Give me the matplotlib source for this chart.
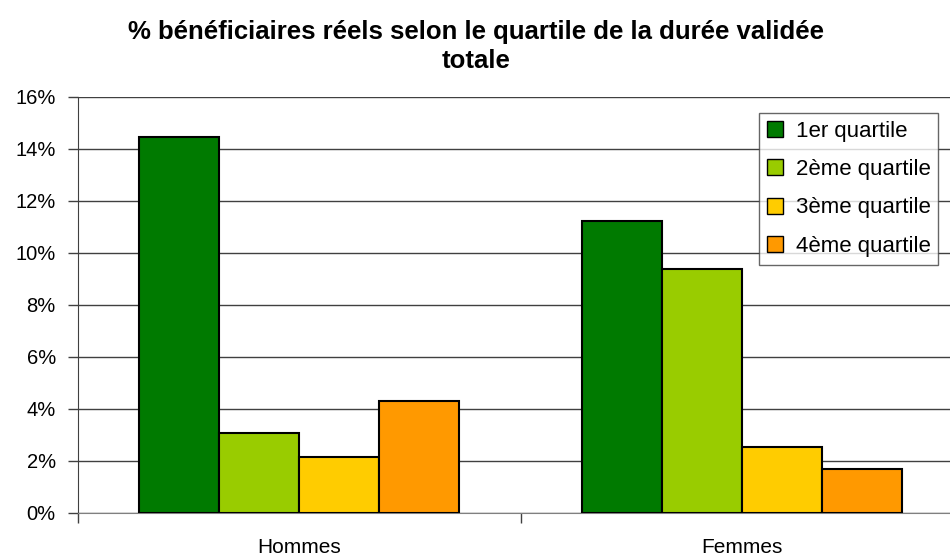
import matplotlib
matplotlib.use("Agg")
import matplotlib.pyplot as plt
import numpy as np
from matplotlib.ticker import FuncFormatter, FixedLocator

plt.rcParams['font.family'] = ['Liberation Sans', 'DejaVu Sans']

categories = ["Hommes", "Femmes"]
series_names = ["1er quartile", "2ème quartile", "3ème quartile", "4ème quartile"]
q1 = [14.45, 11.24]
q2 = [3.08, 9.37]
q3 = [2.14, 2.53]
q4 = [4.31, 1.68]
colors = ["#007A00", "#99CC00", "#FFCC00", "#FF9900"]
title_lines = ["% bénéficiaires réels selon le quartile de la durée validée", "totale"]

fig = plt.figure(figsize=(9.5, 5.58), dpi=100)
ax = fig.add_axes([78/950, 45/558, 885/950, 416/558])

x = np.arange(len(categories))
w = 0.181
for i, (vals, name, c) in enumerate(zip([q1, q2, q3, q4], series_names, colors)):
    ax.bar(x + (i - 1.5) * w, vals, width=w, color=c, edgecolor="black",
           linewidth=1.5, label=name, zorder=3)

ax.set_xlim(-0.5, 1.5)
ax.set_ylim(0, 16)
ax.set_yticks(np.arange(0, 17, 2))
ax.yaxis.set_major_formatter(FuncFormatter(lambda v, p: f"{v:.0f}%"))
ax.yaxis.grid(True, color="#404040", linewidth=1.0, zorder=0)
ax.tick_params(axis="y", direction="out", length=7, width=1, color="#404040",
               labelsize=14.5, pad=9)

ax.set_xticks(x)
ax.set_xticklabels(categories)
ax.xaxis.set_minor_locator(FixedLocator([-0.5, 0.5, 1.5]))
ax.tick_params(axis="x", which="major", length=0, labelsize=15, pad=18)
ax.tick_params(axis="x", which="minor", length=7, width=1, color="#404040",
               direction="out")

for s in ["top", "right"]:
    ax.spines[s].set_visible(False)
ax.spines["left"].set_color("#404040")
ax.spines["bottom"].set_color("#808080")

fig.text(476/950, 1 - 32/558, title_lines[0],
         ha="center", va="center", fontsize=18.5, fontweight="bold")
fig.text(476/950, 1 - 61/558, title_lines[1],
         ha="center", va="center", fontsize=18.5, fontweight="bold")

leg = ax.legend(loc="upper left", bbox_to_anchor=((759 - 78) / 885, 1 - 16/416),
                bbox_transform=ax.transAxes,
                fontsize=16, frameon=True, fancybox=False, edgecolor="#404040",
                handlelength=0.75, handleheight=0.75, handletextpad=0.55,
                labelspacing=0.78, borderpad=0.35, borderaxespad=0)
leg.get_frame().set_linewidth(1.0)
for h in leg.legend_handles:
    h.set_linewidth(1.0)

fig.savefig("out.png", dpi=100)
